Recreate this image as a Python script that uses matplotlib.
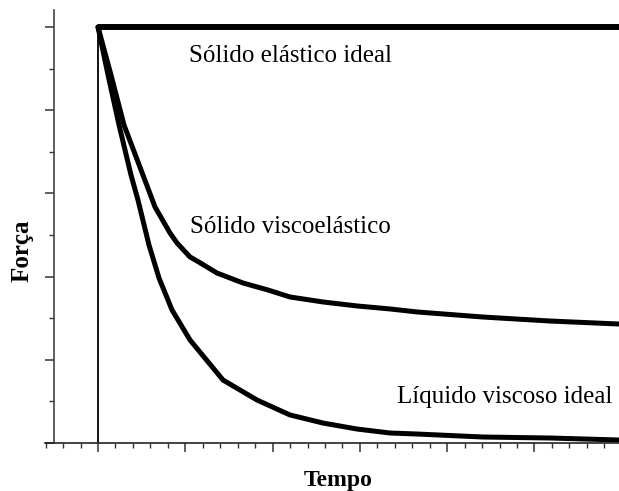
import matplotlib
matplotlib.use("Agg")
import matplotlib.pyplot as plt
from matplotlib.ticker import MultipleLocator

# Data (time units, force units)
elastic_t = [0.0, 5.97]
elastic_f = [5.0, 5.0]

visco_t = [0.0, 0.149, 0.298, 0.515, 0.653, 0.825, 0.905, 1.054, 1.134, 1.363, 1.661, 1.947,
           2.199, 2.577, 2.967, 3.345, 3.654, 4.410, 5.178, 5.968]
visco_f = [5.0, 4.423, 3.822, 3.221, 2.837, 2.524, 2.404, 2.236, 2.188, 2.043, 1.923, 1.839,
           1.755, 1.695, 1.647, 1.611, 1.575, 1.514, 1.466, 1.430]

liquid_t = [0.0, 0.115, 0.241, 0.378, 0.458, 0.584, 0.699, 0.848, 1.054, 1.432,
            1.821, 2.199, 2.577, 2.967, 3.345, 3.654, 4.410, 5.178, 5.968]
liquid_f = [5.0, 4.423, 3.822, 3.221, 2.921, 2.380, 1.983, 1.599, 1.238, 0.757,
            0.517, 0.337, 0.240, 0.168, 0.120, 0.108, 0.072, 0.060, 0.036]

step_t = [0.0, 0.0]
step_f = [0.0, 5.0]

labels = ["Sólido elástico ideal", "Sólido viscoelástico", "Líquido viscoso ideal"]
xlabel = "Tempo"
ylabel = "Força"

W, H = 619, 491
fig = plt.figure(figsize=(W / 100, H / 100), dpi=100)
ax = fig.add_axes([45 / W, 1 - 443 / H, (619 - 45) / W, (443 - 10) / H])

serif = ["Liberation Serif", "DejaVu Serif"]

ax.plot(step_t, step_f, color="black", lw=1.3, solid_capstyle="butt")
ax.plot(elastic_t, elastic_f, color="black", lw=4.3, solid_capstyle="butt")
ax.plot(visco_t, visco_f, color="black", lw=3.6, solid_capstyle="round", solid_joinstyle="round")
ax.plot(liquid_t, liquid_f, color="black", lw=3.6, solid_capstyle="round", solid_joinstyle="round")

ax.set_xlim(-0.607, 5.968)
ax.set_ylim(0, 5.204)

for s in ["top", "right"]:
    ax.spines[s].set_visible(False)
ax.spines["left"].set_position(("data", -0.504))
ax.spines["left"].set_color("#444444")
ax.spines["bottom"].set_color("#222222")
ax.spines["left"].set_linewidth(1.2)
ax.spines["bottom"].set_linewidth(1.2)

ax.xaxis.set_major_locator(MultipleLocator(1))
ax.xaxis.set_minor_locator(MultipleLocator(0.2))
ax.yaxis.set_major_locator(MultipleLocator(1))
ax.yaxis.set_minor_locator(MultipleLocator(0.5))
ax.tick_params(axis="both", which="major", direction="out", length=6.5, width=1.1, color="#333333",
               labelbottom=False, labelleft=False)
ax.tick_params(axis="both", which="minor", direction="out", length=3.5, width=1.0, color="#333333")

ax.text(1.042, 4.579, labels[0], family=serif, fontsize=18, ha="left", va="baseline")
ax.text(1.054, 2.524, labels[1], family=serif, fontsize=18, ha="left", va="baseline")
ax.text(3.425, 0.481, labels[2], family=serif, fontsize=18, ha="left", va="baseline")

fig.text(338 / W, 1 - 486 / H, xlabel, family=serif, fontsize=17, fontweight="bold", ha="center",
         va="baseline")
fig.text(22 / W, 1 - 251 / H, ylabel, family=serif, fontsize=18, fontweight="bold", ha="center", va="center",
         rotation=90)

fig.savefig("out.png", dpi=100)
